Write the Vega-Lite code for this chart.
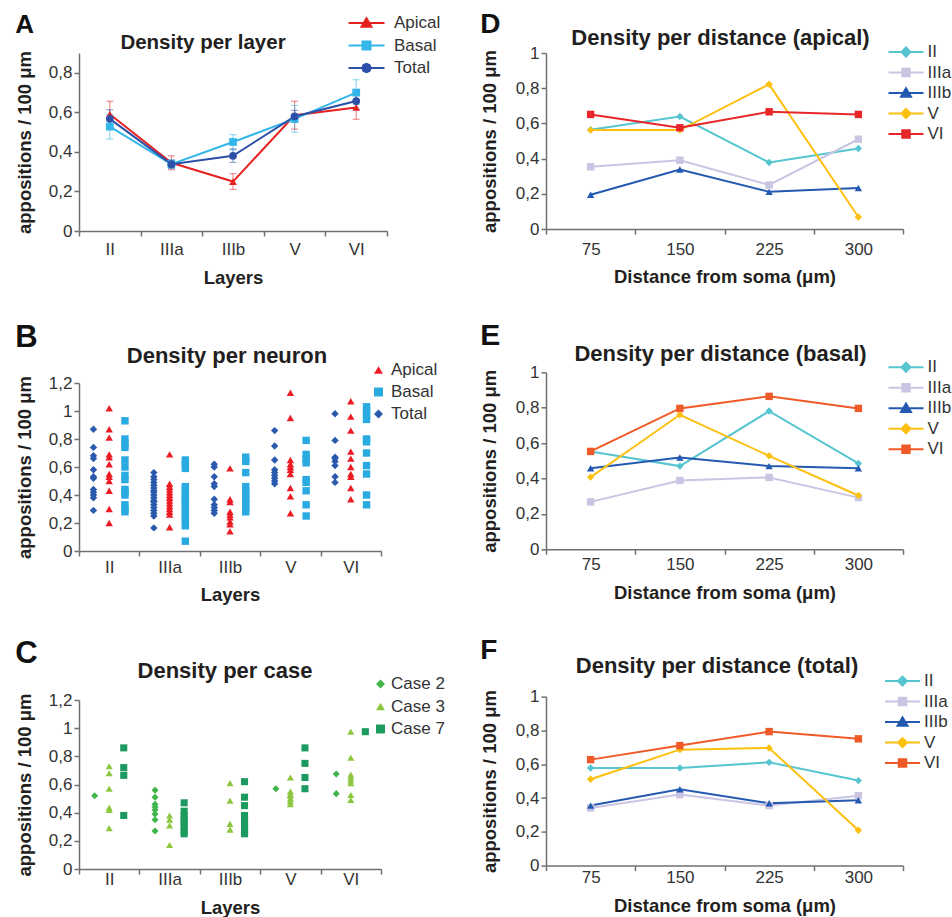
{
"$schema":"https://vega.github.io/schema/vega-lite/v6.json",
"padding":{"left":15,"top":11,"right":0,"bottom":0},
"background":"white",
"config":{
 "font":"Liberation Sans",
 "view":{"stroke":null},
 "axis":{"labelFont":"Liberation Sans","titleFont":"Liberation Sans","labelFontSize":17,"labelColor":"#333333","titleFontSize":18.5,"titleFontWeight":"bold","titleColor":"#231f20","domainColor":"#707070","tickColor":"#707070","domainWidth":1.5,"tickWidth":1.5,"tickSize":5,"grid":false},
 "title":{"font":"Liberation Sans","fontSize":22,"fontWeight":"bold","color":"#231f20"},
 "legend":{"labelFont":"Liberation Sans","labelFontSize":17,"labelColor":"#333333"}
},
"datasets":{
 "A":[
  {"layer":"II","type":"Apical","value":0.59,"lo":0.52,"hi":0.656},
  {"layer":"IIIa","type":"Apical","value":0.345,"lo":0.31,"hi":0.38},
  {"layer":"IIIb","type":"Apical","value":0.25,"lo":0.21,"hi":0.29},
  {"layer":"V","type":"Apical","value":0.585,"lo":0.515,"hi":0.656},
  {"layer":"VI","type":"Apical","value":0.625,"lo":0.565,"hi":0.685},
  {"layer":"II","type":"Basal","value":0.528,"lo":0.465,"hi":0.59},
  {"layer":"IIIa","type":"Basal","value":0.338,"lo":0.315,"hi":0.36},
  {"layer":"IIIb","type":"Basal","value":0.45,"lo":0.41,"hi":0.487},
  {"layer":"V","type":"Basal","value":0.567,"lo":0.5,"hi":0.635},
  {"layer":"VI","type":"Basal","value":0.70,"lo":0.64,"hi":0.765},
  {"layer":"II","type":"Total","value":0.567,"lo":0.52,"hi":0.613},
  {"layer":"IIIa","type":"Total","value":0.338,"lo":0.318,"hi":0.358},
  {"layer":"IIIb","type":"Total","value":0.38,"lo":0.347,"hi":0.415},
  {"layer":"V","type":"Total","value":0.579,"lo":0.55,"hi":0.61},
  {"layer":"VI","type":"Total","value":0.657,"lo":0.615,"hi":0.70}
 ],
 "B":[
  {"layer":"II","type":"Total","value":0.87},{"layer":"II","type":"Total","value":0.74},{"layer":"II","type":"Total","value":0.68},{"layer":"II","type":"Total","value":0.66},{"layer":"II","type":"Total","value":0.58},{"layer":"II","type":"Total","value":0.53},{"layer":"II","type":"Total","value":0.52},{"layer":"II","type":"Total","value":0.44},{"layer":"II","type":"Total","value":0.42},{"layer":"II","type":"Total","value":0.40},{"layer":"II","type":"Total","value":0.38},{"layer":"II","type":"Total","value":0.29},
  {"layer":"II","type":"Apical","value":1.02},{"layer":"II","type":"Apical","value":0.87},{"layer":"II","type":"Apical","value":0.81},{"layer":"II","type":"Apical","value":0.69},{"layer":"II","type":"Apical","value":0.67},{"layer":"II","type":"Apical","value":0.62},{"layer":"II","type":"Apical","value":0.55},{"layer":"II","type":"Apical","value":0.53},{"layer":"II","type":"Apical","value":0.50},{"layer":"II","type":"Apical","value":0.43},{"layer":"II","type":"Apical","value":0.30},{"layer":"II","type":"Apical","value":0.20},
  {"layer":"II","type":"Basal","value":0.93},{"layer":"II","type":"Basal","value":0.80},{"layer":"II","type":"Basal","value":0.77},{"layer":"II","type":"Basal","value":0.74},{"layer":"II","type":"Basal","value":0.65},{"layer":"II","type":"Basal","value":0.60},{"layer":"II","type":"Basal","value":0.54},{"layer":"II","type":"Basal","value":0.51},{"layer":"II","type":"Basal","value":0.44},{"layer":"II","type":"Basal","value":0.42},{"layer":"II","type":"Basal","value":0.40},{"layer":"II","type":"Basal","value":0.33},{"layer":"II","type":"Basal","value":0.30},{"layer":"II","type":"Basal","value":0.28},
  {"layer":"IIIa","type":"Total","value":0.56},{"layer":"IIIa","type":"Total","value":0.53},{"layer":"IIIa","type":"Total","value":0.51},{"layer":"IIIa","type":"Total","value":0.49},{"layer":"IIIa","type":"Total","value":0.47},{"layer":"IIIa","type":"Total","value":0.45},{"layer":"IIIa","type":"Total","value":0.43},{"layer":"IIIa","type":"Total","value":0.42},{"layer":"IIIa","type":"Total","value":0.40},{"layer":"IIIa","type":"Total","value":0.38},{"layer":"IIIa","type":"Total","value":0.36},{"layer":"IIIa","type":"Total","value":0.35},{"layer":"IIIa","type":"Total","value":0.33},{"layer":"IIIa","type":"Total","value":0.31},{"layer":"IIIa","type":"Total","value":0.29},{"layer":"IIIa","type":"Total","value":0.27},{"layer":"IIIa","type":"Total","value":0.25},{"layer":"IIIa","type":"Total","value":0.165},
  {"layer":"IIIa","type":"Apical","value":0.69},{"layer":"IIIa","type":"Apical","value":0.48},{"layer":"IIIa","type":"Apical","value":0.46},{"layer":"IIIa","type":"Apical","value":0.44},{"layer":"IIIa","type":"Apical","value":0.42},{"layer":"IIIa","type":"Apical","value":0.40},{"layer":"IIIa","type":"Apical","value":0.38},{"layer":"IIIa","type":"Apical","value":0.36},{"layer":"IIIa","type":"Apical","value":0.34},{"layer":"IIIa","type":"Apical","value":0.32},{"layer":"IIIa","type":"Apical","value":0.30},{"layer":"IIIa","type":"Apical","value":0.28},{"layer":"IIIa","type":"Apical","value":0.26},{"layer":"IIIa","type":"Apical","value":0.17},
  {"layer":"IIIa","type":"Basal","value":0.65},{"layer":"IIIa","type":"Basal","value":0.62},{"layer":"IIIa","type":"Basal","value":0.59},{"layer":"IIIa","type":"Basal","value":0.46},{"layer":"IIIa","type":"Basal","value":0.44},{"layer":"IIIa","type":"Basal","value":0.41},{"layer":"IIIa","type":"Basal","value":0.38},{"layer":"IIIa","type":"Basal","value":0.36},{"layer":"IIIa","type":"Basal","value":0.33},{"layer":"IIIa","type":"Basal","value":0.30},{"layer":"IIIa","type":"Basal","value":0.27},{"layer":"IIIa","type":"Basal","value":0.24},{"layer":"IIIa","type":"Basal","value":0.21},{"layer":"IIIa","type":"Basal","value":0.18},{"layer":"IIIa","type":"Basal","value":0.07},
  {"layer":"IIIb","type":"Total","value":0.62},{"layer":"IIIb","type":"Total","value":0.60},{"layer":"IIIb","type":"Total","value":0.53},{"layer":"IIIb","type":"Total","value":0.48},{"layer":"IIIb","type":"Total","value":0.46},{"layer":"IIIb","type":"Total","value":0.37},{"layer":"IIIb","type":"Total","value":0.33},{"layer":"IIIb","type":"Total","value":0.31},{"layer":"IIIb","type":"Total","value":0.29},{"layer":"IIIb","type":"Total","value":0.27},
  {"layer":"IIIb","type":"Apical","value":0.59},{"layer":"IIIb","type":"Apical","value":0.37},{"layer":"IIIb","type":"Apical","value":0.35},{"layer":"IIIb","type":"Apical","value":0.28},{"layer":"IIIb","type":"Apical","value":0.26},{"layer":"IIIb","type":"Apical","value":0.24},{"layer":"IIIb","type":"Apical","value":0.21},{"layer":"IIIb","type":"Apical","value":0.19},{"layer":"IIIb","type":"Apical","value":0.14},
  {"layer":"IIIb","type":"Basal","value":0.67},{"layer":"IIIb","type":"Basal","value":0.64},{"layer":"IIIb","type":"Basal","value":0.56},{"layer":"IIIb","type":"Basal","value":0.46},{"layer":"IIIb","type":"Basal","value":0.43},{"layer":"IIIb","type":"Basal","value":0.40},{"layer":"IIIb","type":"Basal","value":0.37},{"layer":"IIIb","type":"Basal","value":0.34},{"layer":"IIIb","type":"Basal","value":0.31},{"layer":"IIIb","type":"Basal","value":0.28},
  {"layer":"V","type":"Total","value":0.86},{"layer":"V","type":"Total","value":0.75},{"layer":"V","type":"Total","value":0.65},{"layer":"V","type":"Total","value":0.58},{"layer":"V","type":"Total","value":0.56},{"layer":"V","type":"Total","value":0.54},{"layer":"V","type":"Total","value":0.52},{"layer":"V","type":"Total","value":0.50},{"layer":"V","type":"Total","value":0.48},
  {"layer":"V","type":"Apical","value":1.13},{"layer":"V","type":"Apical","value":0.95},{"layer":"V","type":"Apical","value":0.65},{"layer":"V","type":"Apical","value":0.62},{"layer":"V","type":"Apical","value":0.60},{"layer":"V","type":"Apical","value":0.58},{"layer":"V","type":"Apical","value":0.55},{"layer":"V","type":"Apical","value":0.45},{"layer":"V","type":"Apical","value":0.39},{"layer":"V","type":"Apical","value":0.27},
  {"layer":"V","type":"Basal","value":0.79},{"layer":"V","type":"Basal","value":0.69},{"layer":"V","type":"Basal","value":0.66},{"layer":"V","type":"Basal","value":0.63},{"layer":"V","type":"Basal","value":0.51},{"layer":"V","type":"Basal","value":0.49},{"layer":"V","type":"Basal","value":0.43},{"layer":"V","type":"Basal","value":0.33},{"layer":"V","type":"Basal","value":0.25},
  {"layer":"VI","type":"Total","value":0.98},{"layer":"VI","type":"Total","value":0.79},{"layer":"VI","type":"Total","value":0.67},{"layer":"VI","type":"Total","value":0.66},{"layer":"VI","type":"Total","value":0.64},{"layer":"VI","type":"Total","value":0.61},{"layer":"VI","type":"Total","value":0.53},{"layer":"VI","type":"Total","value":0.49},
  {"layer":"VI","type":"Apical","value":1.07},{"layer":"VI","type":"Apical","value":0.96},{"layer":"VI","type":"Apical","value":0.86},{"layer":"VI","type":"Apical","value":0.71},{"layer":"VI","type":"Apical","value":0.66},{"layer":"VI","type":"Apical","value":0.60},{"layer":"VI","type":"Apical","value":0.55},{"layer":"VI","type":"Apical","value":0.53},{"layer":"VI","type":"Apical","value":0.45},{"layer":"VI","type":"Apical","value":0.37},
  {"layer":"VI","type":"Basal","value":1.03},{"layer":"VI","type":"Basal","value":1.00},{"layer":"VI","type":"Basal","value":0.97},{"layer":"VI","type":"Basal","value":0.94},{"layer":"VI","type":"Basal","value":0.80},{"layer":"VI","type":"Basal","value":0.78},{"layer":"VI","type":"Basal","value":0.70},{"layer":"VI","type":"Basal","value":0.61},{"layer":"VI","type":"Basal","value":0.55},{"layer":"VI","type":"Basal","value":0.40},{"layer":"VI","type":"Basal","value":0.33}
 ],
 "C":[
  {"layer":"II","case":"Case 2","value":0.52},
  {"layer":"II","case":"Case 3","value":0.73},{"layer":"II","case":"Case 3","value":0.68},{"layer":"II","case":"Case 3","value":0.57},{"layer":"II","case":"Case 3","value":0.435},{"layer":"II","case":"Case 3","value":0.42},{"layer":"II","case":"Case 3","value":0.29},
  {"layer":"II","case":"Case 7","value":0.86},{"layer":"II","case":"Case 7","value":0.72},{"layer":"II","case":"Case 7","value":0.665},{"layer":"II","case":"Case 7","value":0.38},
  {"layer":"IIIa","case":"Case 2","value":0.56},{"layer":"IIIa","case":"Case 2","value":0.51},{"layer":"IIIa","case":"Case 2","value":0.46},{"layer":"IIIa","case":"Case 2","value":0.44},{"layer":"IIIa","case":"Case 2","value":0.42},{"layer":"IIIa","case":"Case 2","value":0.39},{"layer":"IIIa","case":"Case 2","value":0.35},{"layer":"IIIa","case":"Case 2","value":0.27},
  {"layer":"IIIa","case":"Case 3","value":0.38},{"layer":"IIIa","case":"Case 3","value":0.35},{"layer":"IIIa","case":"Case 3","value":0.31},{"layer":"IIIa","case":"Case 3","value":0.17},
  {"layer":"IIIa","case":"Case 7","value":0.47},{"layer":"IIIa","case":"Case 7","value":0.41},{"layer":"IIIa","case":"Case 7","value":0.38},{"layer":"IIIa","case":"Case 7","value":0.35},{"layer":"IIIa","case":"Case 7","value":0.33},{"layer":"IIIa","case":"Case 7","value":0.30},{"layer":"IIIa","case":"Case 7","value":0.27},{"layer":"IIIa","case":"Case 7","value":0.25},
  {"layer":"IIIb","case":"Case 3","value":0.61},{"layer":"IIIb","case":"Case 3","value":0.485},{"layer":"IIIb","case":"Case 3","value":0.32},{"layer":"IIIb","case":"Case 3","value":0.28},
  {"layer":"IIIb","case":"Case 7","value":0.62},{"layer":"IIIb","case":"Case 7","value":0.51},{"layer":"IIIb","case":"Case 7","value":0.45},{"layer":"IIIb","case":"Case 7","value":0.38},{"layer":"IIIb","case":"Case 7","value":0.35},{"layer":"IIIb","case":"Case 7","value":0.32},{"layer":"IIIb","case":"Case 7","value":0.29},{"layer":"IIIb","case":"Case 7","value":0.26},{"layer":"IIIb","case":"Case 7","value":0.25},
  {"layer":"V","case":"Case 2","value":0.57},
  {"layer":"V","case":"Case 3","value":0.65},{"layer":"V","case":"Case 3","value":0.55},{"layer":"V","case":"Case 3","value":0.53},{"layer":"V","case":"Case 3","value":0.52},{"layer":"V","case":"Case 3","value":0.50},{"layer":"V","case":"Case 3","value":0.48},{"layer":"V","case":"Case 3","value":0.46},
  {"layer":"V","case":"Case 7","value":0.86},{"layer":"V","case":"Case 7","value":0.75},{"layer":"V","case":"Case 7","value":0.65},{"layer":"V","case":"Case 7","value":0.57},
  {"layer":"VI","case":"Case 2","value":0.675},{"layer":"VI","case":"Case 2","value":0.535},
  {"layer":"VI","case":"Case 3","value":0.975},{"layer":"VI","case":"Case 3","value":0.79},{"layer":"VI","case":"Case 3","value":0.67},{"layer":"VI","case":"Case 3","value":0.65},{"layer":"VI","case":"Case 3","value":0.63},{"layer":"VI","case":"Case 3","value":0.61},{"layer":"VI","case":"Case 3","value":0.525},{"layer":"VI","case":"Case 3","value":0.49},
  {"layer":"VI","case":"Case 7","value":0.975}
 ],
 "D":[
  {"dist":"75","layer":"II","value":0.564},{"dist":"150","layer":"II","value":0.639},{"dist":"225","layer":"II","value":0.378},{"dist":"300","layer":"II","value":0.457},
  {"dist":"75","layer":"IIIa","value":0.353},{"dist":"150","layer":"IIIa","value":0.391},{"dist":"225","layer":"IIIa","value":0.25},{"dist":"300","layer":"IIIa","value":0.51},
  {"dist":"75","layer":"IIIb","value":0.195},{"dist":"150","layer":"IIIb","value":0.338},{"dist":"225","layer":"IIIb","value":0.211},{"dist":"300","layer":"IIIb","value":0.233},
  {"dist":"75","layer":"V","value":0.562},{"dist":"150","layer":"V","value":0.562},{"dist":"225","layer":"V","value":0.822},{"dist":"300","layer":"V","value":0.068},
  {"dist":"75","layer":"VI","value":0.651},{"dist":"150","layer":"VI","value":0.575},{"dist":"225","layer":"VI","value":0.666},{"dist":"300","layer":"VI","value":0.651}
 ],
 "E":[
  {"dist":"75","layer":"II","value":0.553},{"dist":"150","layer":"II","value":0.47},{"dist":"225","layer":"II","value":0.781},{"dist":"300","layer":"II","value":0.485},
  {"dist":"75","layer":"IIIa","value":0.268},{"dist":"150","layer":"IIIa","value":0.389},{"dist":"225","layer":"IIIa","value":0.406},{"dist":"300","layer":"IIIa","value":0.292},
  {"dist":"75","layer":"IIIb","value":0.458},{"dist":"150","layer":"IIIb","value":0.519},{"dist":"225","layer":"IIIb","value":0.47},{"dist":"300","layer":"IIIb","value":0.458},
  {"dist":"75","layer":"V","value":0.408},{"dist":"150","layer":"V","value":0.76},{"dist":"225","layer":"V","value":0.528},{"dist":"300","layer":"V","value":0.304},
  {"dist":"75","layer":"VI","value":0.553},{"dist":"150","layer":"VI","value":0.796},{"dist":"225","layer":"VI","value":0.864},{"dist":"300","layer":"VI","value":0.796}
 ],
 "F":[
  {"dist":"75","layer":"II","value":0.578},{"dist":"150","layer":"II","value":0.578},{"dist":"225","layer":"II","value":0.611},{"dist":"300","layer":"II","value":0.503},
  {"dist":"75","layer":"IIIa","value":0.341},{"dist":"150","layer":"IIIa","value":0.42},{"dist":"225","layer":"IIIa","value":0.355},{"dist":"300","layer":"IIIa","value":0.414},
  {"dist":"75","layer":"IIIb","value":0.355},{"dist":"150","layer":"IIIb","value":0.452},{"dist":"225","layer":"IIIb","value":0.369},{"dist":"300","layer":"IIIb","value":0.387},
  {"dist":"75","layer":"V","value":0.511},{"dist":"150","layer":"V","value":0.686},{"dist":"225","layer":"V","value":0.696},{"dist":"300","layer":"V","value":0.209},
  {"dist":"75","layer":"VI","value":0.627},{"dist":"150","layer":"VI","value":0.71},{"dist":"225","layer":"VI","value":0.793},{"dist":"300","layer":"VI","value":0.75}
 ]
},
"resolve":{"scale":{"color":"independent","shape":"independent","xOffset":"independent","x":"independent","y":"independent"},"legend":{"color":"independent","shape":"independent"}},
"spacing":35,
"hconcat":[
 {
  "spacing":34,
  "resolve":{"scale":{"color":"independent","shape":"independent","xOffset":"independent","x":"independent","y":"independent"},"legend":{"color":"independent","shape":"independent"}},
  "vconcat":[
   {
    "title":{"text":"A","anchor":"start","fontSize":26,"offset":-23,"color":"#111111"},
    "vconcat":[{
     "width":308,"height":178,
     "title":{"text":"Density per layer","frame":"group","dx":-30,"offset":-3,"fontSize":20.5},
     "data":{"name":"A"},
     "encoding":{
      "x":{"field":"layer","type":"nominal","sort":["II","IIIa","IIIb","V","VI"],"scale":{"paddingInner":0,"paddingOuter":0},"axis":{"title":"Layers","labelAngle":0,"tickBand":"extent","labelPadding":5,"titlePadding":11}},
      "color":{"field":"type","type":"nominal","scale":{"domain":["Apical","Basal","Total"],"range":["#e42320","#33b7ea","#2c50a7"]},
       "legend":{"title":null,"orient":"none","legendX":270,"legendY":-38.5,"symbolSize":100,"symbolOffset":9,"labelOffset":19,"rowPadding":4.5,"symbolStrokeWidth":2,
        "encode":{"symbols":{"update":{
         "shape":{"signal":"datum.value == 'Apical' ? 'M-3.6,0H3.6M0,-0.95L1,0.75L-1,0.75Z' : datum.value == 'Basal' ? 'M-3.6,0H3.6M-0.8,-0.8H0.8V0.8H-0.8Z' : 'M-3.6,0H3.6M-0.85,0L-0.6,-0.6L0,-0.85L0.6,-0.6L0.85,0L0.6,0.6L0,0.85L-0.6,0.6Z'"},
         "fill":{"signal":"datum.value == 'Apical' ? '#e42320' : datum.value == 'Basal' ? '#33b7ea' : '#2c50a7'"},
         "stroke":{"signal":"datum.value == 'Apical' ? '#e42320' : datum.value == 'Basal' ? '#33b7ea' : '#2c50a7'"},
         "strokeWidth":{"value":2},"opacity":{"value":1}}}}}}
     },
     "layer":[
      {"mark":{"type":"line","strokeWidth":2},"encoding":{"y":{"field":"value","type":"quantitative","title":"appositions / 100 μm","scale":{"domain":[0,0.9]},
        "axis":{"values":[0,0.1,0.2,0.3,0.4,0.5,0.6,0.7,0.8,0.9],"labelExpr":"datum.value == 0 ? '0' : datum.value == 1 ? '1' : (round(datum.value*10) % 2 == 1 ? '' : replace(format(datum.value, '.1f'), '.', ','))","labelPadding":2,"titlePadding":14}}}},
      {"mark":{"type":"rule","opacity":0.5,"strokeWidth":1.2},
       "encoding":{"y":{"field":"lo","type":"quantitative","title":"appositions / 100 μm"},"y2":{"field":"hi"}}},
      {"mark":{"type":"tick","opacity":0.5,"size":7,"thickness":1.2},"encoding":{"y":{"field":"lo","type":"quantitative","title":"appositions / 100 μm"}}},
      {"mark":{"type":"tick","opacity":0.5,"size":7,"thickness":1.2},"encoding":{"y":{"field":"hi","type":"quantitative","title":"appositions / 100 μm"}}},
      {"mark":{"type":"point","filled":true,"size":60,"opacity":1},"encoding":{"y":{"field":"value","type":"quantitative","title":"appositions / 100 μm"},
       "shape":{"field":"type","type":"nominal","scale":{"domain":["Total","Apical","Basal"],"range":["circle","triangle-up","square"]},"legend":null}}}
     ]
    }]
   },
   {
    "title":{"text":"B","anchor":"start","fontSize":31,"offset":-9,"color":"#111111"},
    "vconcat":[{
     "width":302,"height":168,
     "title":{"text":"Density per neuron","frame":"group","dx":-3,"offset":6.3},
     "data":{"name":"B"},
     "mark":{"type":"point","filled":true,"size":55,"opacity":1},
     "encoding":{
      "x":{"field":"layer","type":"nominal","sort":["II","IIIa","IIIb","V","VI"],"scale":{"paddingInner":0,"paddingOuter":0},"axis":{"title":"Layers","labelAngle":0,"tickBand":"extent","labelPadding":3.5,"titlePadding":10}},
      "xOffset":{"field":"type","type":"nominal","scale":{"domain":["Total","Apical","Basal"],"range":[14.45,45.95],"paddingOuter":0,"paddingInner":0}},
      "y":{"field":"value","type":"quantitative","title":"appositions / 100 μm","scale":{"domain":[0,1.2]},
       "axis":{"values":[0,0.2,0.4,0.6,0.8,1,1.2],"labelExpr":"datum.value == 0 ? '0' : datum.value == 1 ? '1' : replace(format(datum.value, '.1f'), '.', ',')","labelPadding":2,"titlePadding":14}},
      "color":{"field":"type","type":"nominal","scale":{"domain":["Apical","Basal","Total"],"range":["#ec1c24","#29abe2","#2b5aad"]},
       "legend":{"title":null,"orient":"none","legendX":291,"legendY":-21.5,"symbolSize":80,"labelOffset":4,"rowPadding":4}},
      "shape":{"field":"type","type":"nominal","scale":{"domain":["Apical","Basal","Total"],"range":["triangle-up","square","diamond"]},
       "legend":{"title":null,"orient":"none","legendX":291,"legendY":-21.5,"symbolSize":80,"labelOffset":4,"rowPadding":4}}
     }
    }]
   },
   {
    "title":{"text":"C","anchor":"start","fontSize":31,"offset":-10,"color":"#111111"},
    "vconcat":[{
     "width":302,"height":169,
     "title":{"text":"Density per case","frame":"group","dx":-5,"offset":7.8},
     "data":{"name":"C"},
     "mark":{"type":"point","filled":true,"size":50,"opacity":1},
     "encoding":{
      "x":{"field":"layer","type":"nominal","sort":["II","IIIa","IIIb","V","VI"],"scale":{"paddingInner":0,"paddingOuter":0},"axis":{"title":"Layers","labelAngle":0,"tickBand":"extent","labelPadding":-3,"titlePadding":11}},
      "xOffset":{"field":"case","type":"nominal","scale":{"domain":["Case 2","Case 3","Case 7"],"range":[15.65,44.75],"paddingOuter":0,"paddingInner":0}},
      "y":{"field":"value","type":"quantitative","title":"appositions / 100 μm","scale":{"domain":[0,1.2]},
       "axis":{"values":[0,0.2,0.4,0.6,0.8,1,1.2],"labelExpr":"datum.value == 0 ? '0' : datum.value == 1 ? '1' : replace(format(datum.value, '.1f'), '.', ',')","labelPadding":2,"titlePadding":14}},
      "color":{"field":"case","type":"nominal","scale":{"domain":["Case 2","Case 3","Case 7"],"range":["#3fb54a","#8dc63f","#1c9a5f"]},
       "legend":{"title":null,"orient":"none","legendX":293,"legendY":-24.5,"symbolSize":80,"labelOffset":2,"rowPadding":4.5}},
      "shape":{"field":"case","type":"nominal","scale":{"domain":["Case 2","Case 3","Case 7"],"range":["diamond","triangle-up","square"]},
       "legend":{"title":null,"orient":"none","legendX":293,"legendY":-24.5,"symbolSize":80,"labelOffset":2,"rowPadding":4.5}}
     }
    }]
   }
  ]
 },
 {
  "spacing":34.3,
  "resolve":{"scale":{"color":"independent","shape":"independent","xOffset":"independent","x":"independent","y":"independent"},"legend":{"color":"independent","shape":"independent"}},
  "vconcat":[
   {
    "title":{"text":"D","anchor":"start","fontSize":28,"offset":-12,"color":"#111111"},
    "vconcat":[{
     "width":357,"height":176,
     "title":{"text":"Density per distance (apical)","frame":"group","dx":-4,"offset":-6},
     "data":{"name":"D"},
     "encoding":{
      "x":{"field":"dist","type":"ordinal","sort":["75","150","225","300"],"scale":{"paddingInner":0,"paddingOuter":0},"axis":{"title":"Distance from soma (μm)","labelAngle":0,"tickBand":"extent","labelPadding":7,"titlePadding":10.5}},
      "y":{"field":"value","type":"quantitative","title":"appositions / 100 μm","scale":{"domain":[0,1]},
       "axis":{"values":[0,0.2,0.4,0.6,0.8,1],"labelExpr":"datum.value == 0 ? '0' : datum.value == 1 ? '1' : replace(format(datum.value, '.1f'), '.', ',')","labelPadding":2,"titlePadding":16}},
      "color":{"field":"layer","type":"nominal","scale":{"domain":["II","IIIa","IIIb","V","VI"],"range":["#56c5d0","#c9c5e2","#2359b0","#fdc010","#e8262a"]},
       "legend":{"title":null,"orient":"none","legendX":342.5,"legendY":-9.5,"symbolSize":100,"symbolOffset":9,"labelOffset":13,"rowPadding":2.5,"symbolStrokeWidth":2,
        "encode":{"symbols":{"update":{
         "shape":{"signal":"datum.value == 'II' || datum.value == 'V' ? 'M-3.5,0H3.5M0,-0.9L0.9,0L0,0.9L-0.9,0Z' : datum.value == 'IIIb' ? 'M-3.5,0H3.5M0,-0.95L1,0.75L-1,0.75Z' : 'M-3.5,0H3.5M-0.75,-0.75H0.75V0.75H-0.75Z'"},
         "fill":{"signal":"datum.value == 'II' ? '#56c5d0' : datum.value == 'IIIa' ? '#c9c5e2' : datum.value == 'IIIb' ? '#2359b0' : datum.value == 'V' ? '#fdc010' : '#f05a28'"},
         "stroke":{"signal":"datum.value == 'II' ? '#56c5d0' : datum.value == 'IIIa' ? '#c9c5e2' : datum.value == 'IIIb' ? '#2359b0' : datum.value == 'V' ? '#fdc010' : '#f05a28'"},
         "strokeWidth":{"value":2},"opacity":{"value":1}}}}}}
     },
     "layer":[
      {"mark":{"type":"line","strokeWidth":2}},
      {"mark":{"type":"point","filled":true,"size":55,"opacity":1},"encoding":{"shape":{"field":"layer","type":"nominal","scale":{"domain":["VI","V","IIIb","IIIa","II"],"range":["square","diamond","triangle-up","square","diamond"]},"legend":null}}}
     ]
    }]
   },
   {
    "title":{"text":"E","anchor":"start","fontSize":30,"offset":-7.5,"color":"#111111"},
    "vconcat":[{
     "width":357,"height":177,
     "title":{"text":"Density per distance (basal)","frame":"group","dx":-4,"offset":-2.7},
     "data":{"name":"E"},
     "encoding":{
      "x":{"field":"dist","type":"ordinal","sort":["75","150","225","300"],"scale":{"paddingInner":0,"paddingOuter":0},"axis":{"title":"Distance from soma (μm)","labelAngle":0,"tickBand":"extent","labelPadding":2,"titlePadding":11}},
      "y":{"field":"value","type":"quantitative","title":"appositions / 100 μm","scale":{"domain":[0,1]},
       "axis":{"values":[0,0.2,0.4,0.6,0.8,1],"labelExpr":"datum.value == 0 ? '0' : datum.value == 1 ? '1' : replace(format(datum.value, '.1f'), '.', ',')","labelPadding":2,"titlePadding":16}},
      "color":{"field":"layer","type":"nominal","scale":{"domain":["II","IIIa","IIIb","V","VI"],"range":["#56c5d0","#c9c5e2","#2359b0","#fdc010","#f05a28"]},
       "legend":{"title":null,"orient":"none","legendX":342.5,"legendY":-13.5,"symbolSize":100,"symbolOffset":9,"labelOffset":13,"rowPadding":2.5,"symbolStrokeWidth":2,
        "encode":{"symbols":{"update":{
         "shape":{"signal":"datum.value == 'II' || datum.value == 'V' ? 'M-3.5,0H3.5M0,-0.9L0.9,0L0,0.9L-0.9,0Z' : datum.value == 'IIIb' ? 'M-3.5,0H3.5M0,-0.95L1,0.75L-1,0.75Z' : 'M-3.5,0H3.5M-0.75,-0.75H0.75V0.75H-0.75Z'"},
         "fill":{"signal":"datum.value == 'II' ? '#56c5d0' : datum.value == 'IIIa' ? '#c9c5e2' : datum.value == 'IIIb' ? '#2359b0' : datum.value == 'V' ? '#fdc010' : '#f05a28'"},
         "stroke":{"signal":"datum.value == 'II' ? '#56c5d0' : datum.value == 'IIIa' ? '#c9c5e2' : datum.value == 'IIIb' ? '#2359b0' : datum.value == 'V' ? '#fdc010' : '#f05a28'"},
         "strokeWidth":{"value":2},"opacity":{"value":1}}}}}}
     },
     "layer":[
      {"mark":{"type":"line","strokeWidth":2}},
      {"mark":{"type":"point","filled":true,"size":55,"opacity":1},"encoding":{"shape":{"field":"layer","type":"nominal","scale":{"domain":["VI","V","IIIb","IIIa","II"],"range":["square","diamond","triangle-up","square","diamond"]},"legend":null}}}
     ]
    }]
   },
   {
    "title":{"text":"F","anchor":"start","fontSize":28,"offset":-10,"color":"#111111"},
    "vconcat":[{
     "width":357,"height":169,
     "title":{"text":"Density per distance (total)","frame":"group","dx":-7.5,"offset":9.7},
     "data":{"name":"F"},
     "encoding":{
      "x":{"field":"dist","type":"ordinal","sort":["75","150","225","300"],"scale":{"paddingInner":0,"paddingOuter":0},"axis":{"title":"Distance from soma (μm)","labelAngle":0,"tickBand":"extent","labelPadding":-1,"titlePadding":11}},
      "y":{"field":"value","type":"quantitative","title":"appositions / 100 μm","scale":{"domain":[0,1]},
       "axis":{"values":[0,0.2,0.4,0.6,0.8,1],"labelExpr":"datum.value == 0 ? '0' : datum.value == 1 ? '1' : replace(format(datum.value, '.1f'), '.', ',')","labelPadding":2,"titlePadding":16}},
      "color":{"field":"layer","type":"nominal","scale":{"domain":["II","IIIa","IIIb","V","VI"],"range":["#56c5d0","#c9c5e2","#2359b0","#fdc010","#f05a28"]},
       "legend":{"title":null,"orient":"none","legendX":339,"legendY":-24,"symbolSize":100,"symbolOffset":9,"labelOffset":13,"rowPadding":2.5,"symbolStrokeWidth":2,
        "encode":{"symbols":{"update":{
         "shape":{"signal":"datum.value == 'II' || datum.value == 'V' ? 'M-3.5,0H3.5M0,-0.9L0.9,0L0,0.9L-0.9,0Z' : datum.value == 'IIIb' ? 'M-3.5,0H3.5M0,-0.95L1,0.75L-1,0.75Z' : 'M-3.5,0H3.5M-0.75,-0.75H0.75V0.75H-0.75Z'"},
         "fill":{"signal":"datum.value == 'II' ? '#56c5d0' : datum.value == 'IIIa' ? '#c9c5e2' : datum.value == 'IIIb' ? '#2359b0' : datum.value == 'V' ? '#fdc010' : '#f05a28'"},
         "stroke":{"signal":"datum.value == 'II' ? '#56c5d0' : datum.value == 'IIIa' ? '#c9c5e2' : datum.value == 'IIIb' ? '#2359b0' : datum.value == 'V' ? '#fdc010' : '#f05a28'"},
         "strokeWidth":{"value":2},"opacity":{"value":1}}}}}}
     },
     "layer":[
      {"mark":{"type":"line","strokeWidth":2}},
      {"mark":{"type":"point","filled":true,"size":55,"opacity":1},"encoding":{"shape":{"field":"layer","type":"nominal","scale":{"domain":["VI","V","IIIb","IIIa","II"],"range":["square","diamond","triangle-up","square","diamond"]},"legend":null}}}
     ]
    }]
   }
  ]
 }
]
}
